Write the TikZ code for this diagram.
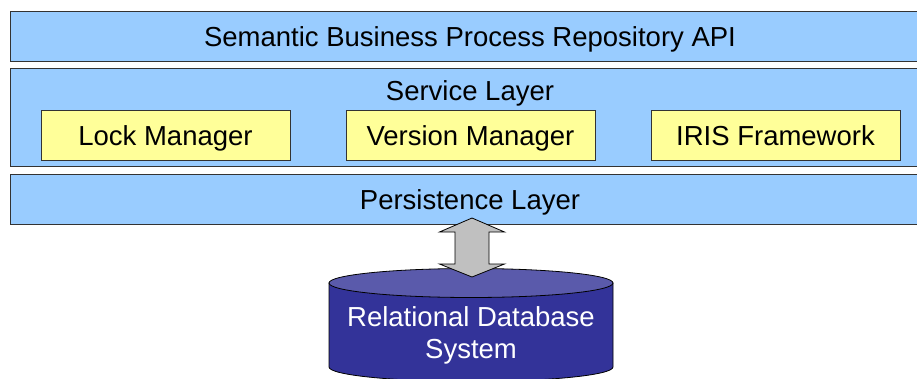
\documentclass[tikz,border=0pt]{standalone}
\usepackage{fontspec}
\setmainfont{Liberation Sans}
\usetikzlibrary{calc}
\definecolor{layerblue}{HTML}{99CCFF}
\definecolor{compyellow}{HTML}{FFFF99}
\definecolor{dbbody}{HTML}{333399}
\definecolor{dbtop}{HTML}{5A5AAB}
\definecolor{arrowgray}{HTML}{C0C0C0}
\newcommand{\bigtext}{\fontsize{27.5}{32}\selectfont}
\tikzset{
	layer/.style={draw=black!80, fill=layerblue, line width=0.8pt, minimum width=920pt, minimum height=50pt, inner sep=0pt, font=\bigtext, text height=26.5pt, text depth=5pt},
	comp/.style={draw=black!80, fill=compyellow, line width=0.8pt, minimum width=249pt, minimum height=50pt, inner sep=0pt, font=\bigtext, text height=26.5pt, text depth=5pt},
	title/.style={inner sep=0pt, font=\bigtext}
}

\begin{document}
\begin{tikzpicture}[x=1pt, y=1pt]
		%%%%% START %%%%%
		\useasboundingbox (0, 0) rectangle (917, 378);
		\clip (0, 0) rectangle (917, 378);
		
		% layers
		\node[layer] (api) at (470, 342) {Semantic Business Process Repository API};
		\node[layer, minimum height=98pt] (service) at (470, 261) {};
		\node[title, text height=26.5pt, text depth=5pt] (servicetitle) at (470, 288.5) {Service Layer};
		\node[layer] (persist) at (470, 179) {Persistence Layer};
		
		% components of the service layer
		\node[comp] (lock) at (165.5, 243) {Lock Manager};
		\node[comp] (version) at (470.5, 243) {Version Manager};
		\node[comp] (iris) at (775.5, 243) {IRIS Framework};
		
		% database
		\coordinate (dbc) at (471, 95);
		\draw[fill=dbbody, line width=0.8pt] ($(dbc)+(-142, 0)$) -- ($(dbc)+(-142, -84)$) arc[start angle=180, end angle=360, x radius=142, y radius=14.5] -- ($(dbc)+(142, 0)$) -- cycle;
		\draw[fill=dbtop, line width=0.8pt] (dbc) ellipse [x radius=142, y radius=14.5];
		\node[title, text=white, align=center] (db) at (471, 43) {Relational Database\\System};
		
		% double arrow between persistence layer and database
		\coordinate (arrtop) at (472, 160);
		\coordinate (arrbot) at (472, 101);
		\draw[fill=arrowgray, line width=0.8pt] (arrtop) -- ($(arrtop)+(-32.5, -14)$) -- ($(arrtop)+(-17, -14)$)
			-- ($(arrbot)+(-17, 13)$) -- ($(arrbot)+(-32.5, 13)$) -- (arrbot) -- ($(arrbot)+(32.5, 13)$)
			-- ($(arrbot)+(17, 13)$) -- ($(arrtop)+(17, -14)$) -- ($(arrtop)+(32.5, -14)$) -- cycle;
		%%%%% END %%%%%
\end{tikzpicture}
\end{document}
